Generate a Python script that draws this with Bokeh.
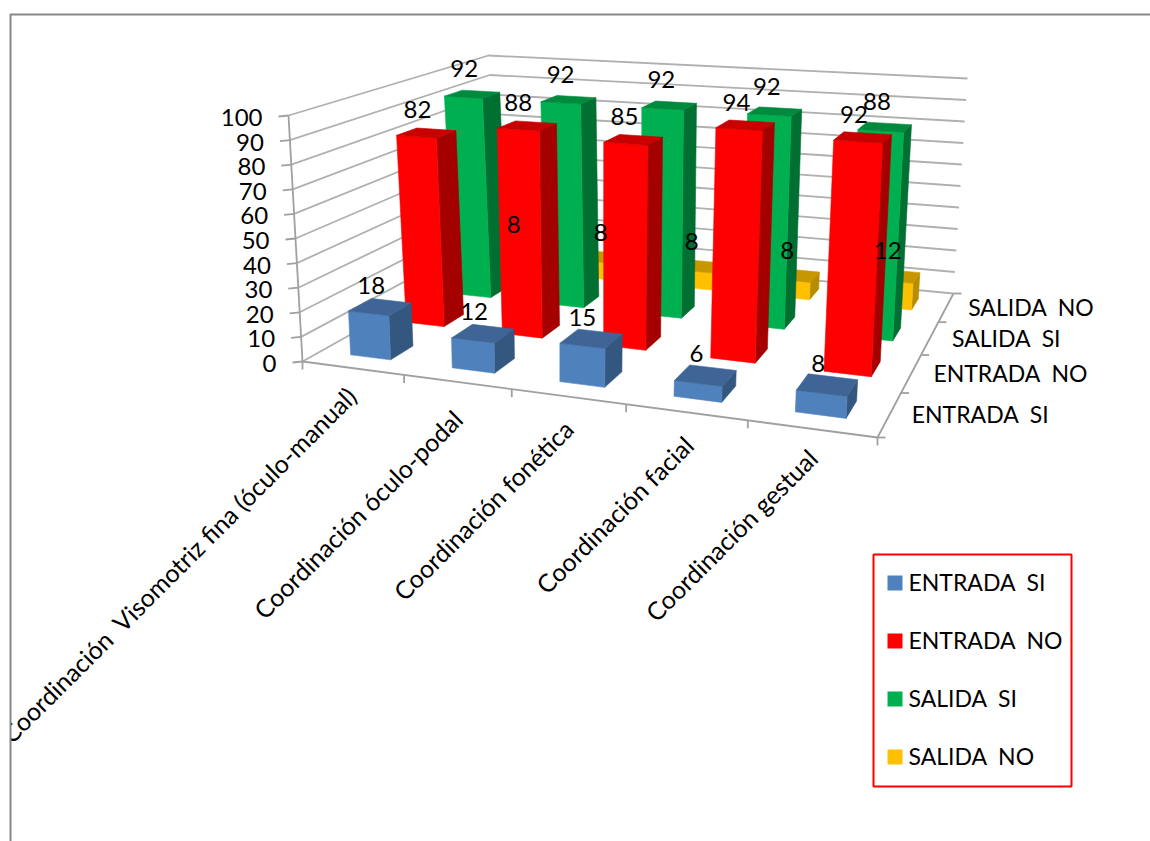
import math
import numpy as np
from bokeh.plotting import figure
from bokeh.models import Range1d
from bokeh.core.properties import value
from bokeh.embed import file_html
from bokeh.resources import INLINE

categories = ["Coordinación \u00a0Visomotriz fina (óculo-manual)", "Coordinación óculo-podal",
              "Coordinación fonética", "Coordinación facial", "Coordinación gestual"]
series_names = ["ENTRADA \u00a0SI", "ENTRADA \u00a0NO", "SALIDA \u00a0SI", "SALIDA \u00a0NO"]
entrada_si = [18, 12, 15, 6, 8]
entrada_no = [82, 88, 85, 94, 92]
salida_si = [92, 92, 92, 92, 88]
salida_no = [8, 8, 8, 8, 12]
value_ticks = [0, 10, 20, 30, 40, 50, 60, 70, 80, 90, 100]

series_values = [entrada_si, entrada_no, salida_si, salida_no]

# styles: front, side, top
FACES = [("#4F81BD", "#34577F", "#3E6595"),
         ("#FF0000", "#A50000", "#C80000"),
         ("#00B050", "#006F32", "#008A3E"),
         ("#FFC000", "#B88C00", "#C89700")]
FONT = value("Lato")
GRID = "#B0B0B0"
AXIS = "#A0A0A0"
FRAME = "#868686"
TEXT = "#000000"
BAR_FRACTION = 0.4
LABEL_OFFSETS = [(-9, -21.5), (-9, -23), (-8, -25.5), (-8, -25)]
CAT_LABEL_END = [(351, 391), (457, 414), (568, 424), (688, 440), (812, 453)]


def homography(pts):
    src = [(0, 0), (1, 0), (1, 1), (0, 1)]
    A, b = [], []
    for (u, v), (x, y) in zip(src, pts):
        A.append([u, v, 1, 0, 0, 0, -u * x, -v * x]); b.append(x)
        A.append([0, 0, 0, u, v, 1, -u * y, -v * y]); b.append(y)
    h = np.linalg.solve(np.array(A, float), np.array(b, float))
    return np.append(h, 1).reshape(3, 3)


# screen corners of the 3D box: front-left, front-right, back-right, back-left
FLOOR = homography([(302, 361), (877, 437), (953, 293), (500, 250)])
ROOF = homography([(288, 115), (891, 154), (967, 78), (488, 55)])


def apply(H, u, v):
    w = H @ np.array([u, v, 1.0])
    return w[0] / w[2], w[1] / w[2]


def P(u, v, z):
    a = apply(FLOOR, u, v)
    b = apply(ROOF, u, v)
    t = z / 100.0
    return a[0] + (b[0] - a[0]) * t, a[1] + (b[1] - a[1]) * t


WIDTH, HEIGHT = 1150, 841
p = figure(width=WIDTH, height=HEIGHT, output_backend="svg", toolbar_location=None,
           x_range=Range1d(0, WIDTH), y_range=Range1d(HEIGHT, 0), min_border=0)
p.axis.visible = False
p.grid.visible = False
p.outline_line_color = None
p.background_fill_color = "#FFFFFF"

n_cat, n_ser = len(categories), len(series_names)

# walls' gridlines
gx, gy = [], []
for z in value_ticks:
    a, b, c = P(0, 0, z), P(0, 1, z), P(1, 1, z)
    gx.append([a[0], b[0], c[0]])
    gy.append([a[1], b[1], c[1]])
p.multi_line(gx, gy, line_color=GRID, line_width=1.8)

# axes and ticks
ax, ay = [], []
a, b = P(0, 0, 0), P(0, 0, 100)
ax.append([a[0], b[0]]); ay.append([a[1], b[1]])
a, b, c = P(0, 0, 0), P(1, 0, 0), P(1, 1, 0)
ax.append([a[0], b[0], c[0]]); ay.append([a[1], b[1], c[1]])
for z in value_ticks:
    a = P(0, 0, z)
    ax.append([a[0] - 10, a[0]]); ay.append([a[1] + 1, a[1]])
for i in range(n_cat + 1):
    a = P(i / n_cat, 0, 0)
    ax.append([a[0], a[0]]); ay.append([a[1], a[1] + 8])
for j in range(n_ser + 1):
    a = P(1, j / n_ser, 0)
    ax.append([a[0], a[0] + 8]); ay.append([a[1], a[1]])
p.multi_line(ax, ay, line_color=AXIS, line_width=1.8)

# bars, back to front
xs, ys, cols = [], [], []
half = BAR_FRACTION / 2
for j in reversed(range(n_ser)):
    front, side, top = FACES[j]
    for i in range(n_cat):
        val = series_values[j][i]
        uc, vc = (i + 0.5) / n_cat, (j + 0.5) / n_ser
        u0, u1 = uc - half / n_cat, uc + half / n_cat
        v0, v1 = vc - half / n_ser, vc + half / n_ser
        faces = [
            ([(u1, v0, 0), (u1, v1, 0), (u1, v1, val), (u1, v0, val)], side),
            ([(u0, v0, 0), (u1, v0, 0), (u1, v0, val), (u0, v0, val)], front),
            ([(u0, v0, val), (u1, v0, val), (u1, v1, val), (u0, v1, val)], top),
        ]
        for pts, col in faces:
            sc = [P(*q) for q in pts]
            xs.append([s[0] for s in sc]); ys.append([s[1] for s in sc]); cols.append(col)
p.patches(xs, ys, fill_color=cols, line_color=cols, line_width=0.6)

# data labels
lx, ly, lt = [], [], []
for j in range(n_ser):
    dx, dy = LABEL_OFFSETS[j]
    for i in range(n_cat):
        val = series_values[j][i]
        s = P((i + 0.5) / n_cat, (j + 0.5) / n_ser, val)
        lx.append(s[0] + dx); ly.append(s[1] + dy); lt.append(str(val))
p.text(lx, ly, text=lt, text_font=FONT, text_font_size="24px", text_color=TEXT,
       text_align="center", text_baseline="middle")

# value axis labels
vx, vy, vt = [], [], []
for z in value_ticks:
    a = P(0, 0, z)
    vx.append(a[0] - 26); vy.append(a[1] + 2); vt.append(str(z))
p.text(vx, vy, text=vt, text_font=FONT, text_font_size="24px", text_color=TEXT,
       text_align="right", text_baseline="middle")

# depth axis labels
dx_, dy_ = [], []
for j in range(n_ser):
    a = P(1, (j + 0.5) / n_ser, 0)
    dx_.append(a[0] + 22); dy_.append(a[1] - 0.5)
p.text(dx_, dy_, text=series_names, text_font=FONT, text_font_size="23px", text_color=TEXT,
       text_align="left", text_baseline="middle")

# category labels
p.text([e[0] for e in CAT_LABEL_END], [e[1] for e in CAT_LABEL_END], text=categories,
       text_font=FONT, text_font_size="25px", text_color=TEXT, angle=math.pi / 4,
       text_align="right", text_baseline="middle")

# outer frame, masking whatever runs past it on the left
p.quad(left=[0], right=[10], top=[0], bottom=[HEIGHT], fill_color="#FFFFFF", line_color=None)
p.line([10, 10, WIDTH], [HEIGHT, 14, 14], line_color=FRAME, line_width=2)

# legend box
p.quad(left=[873], right=[1071], top=[554], bottom=[786], fill_color="#FFFFFF",
       line_color="#FF0000", line_width=2)
for k, (name, faces) in enumerate(zip(series_names, FACES)):
    y = 582.5 + k * 58
    p.quad(left=[887], right=[902], top=[y - 7.5], bottom=[y + 7.5], fill_color=faces[0], line_color=None)
    p.text([908], [y - 1], text=[name], text_font=FONT, text_font_size="23px", text_color=TEXT,
           text_align="left", text_baseline="middle")

open("out.html", "w").write(file_html(p, INLINE))
